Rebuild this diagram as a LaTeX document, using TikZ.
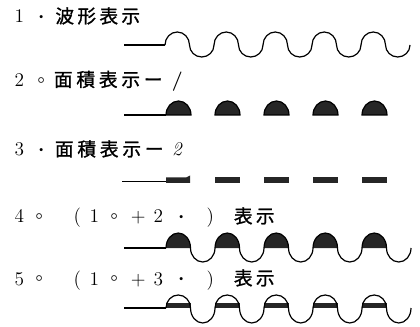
\documentclass[tikz,border=0pt]{standalone}
\usepackage{fontspec}
\newfontfamily\jp{Noto Sans CJK JP}[FakeBold=1.2]
\newlength\px \setlength\px{0.75pt}
% token placed with its centre at x (in px) from the left edge
\newcommand\tk[2]{\makebox[0pt][l]{\hspace*{#1\px}\makebox[0pt]{\fontsize{14.5}{15}\selectfont #2}}}
\newcommand\kj[2]{\tk{#1}{\jp\fontsize{14}{14}\selectfont #2}}
\newcommand\sdot{\raisebox{2.8pt}{\fontsize{8}{8}\selectfont\textbullet}}
\newcommand\hdot{\raisebox{2.4pt}{\fontsize{9.5}{9.5}\selectfont\boldmath$\circ$}}

\tikzset{every picture/.style={line width=0.9pt}}

\begin{document}
\begin{tikzpicture}[x=0.75pt,y=0.75pt,yscale=-1,xscale=1,
  lbl/.style={anchor=base west,inner sep=0pt},
  disk/.style={fill=black!85,draw=black},
  bar/.style={fill=black!85}]
\useasboundingbox (0,0) rectangle (420,327);

% Text Node
\node[lbl] (lab1) at (0,23) {\tk{18}{1}\tk{40}{\sdot}\kj{63.5}{波}\kj{85.5}{形}\kj{107.5}{表}\kj{129.5}{示}};
% Text Node
\node[lbl] (lab2) at (0,86.5) {\tk{18}{2}\tk{40}{\hdot}\kj{62}{面}\kj{84.5}{積}\kj{107}{表}\kj{129.5}{示}\kj{152}{ー}\tk{176}{\bfseries /}};
% Text Node
\node[lbl] (lab3) at (0,156) {\tk{18}{3}\tk{40}{\sdot}\kj{63}{面}\kj{85.5}{積}\kj{108}{表}\kj{130.5}{示}\kj{153}{ー}\tk{176}{\textit{2}}};
% Text Node
\node[lbl] (lab4) at (0,223) {\tk{18}{4}\tk{38}{\hdot}\tk{76}{(}\tk{93}{1}\tk{113}{\hdot}\tk{137}{+}\tk{157}{2}\tk{180}{\sdot}\tk{209}{)}\kj{242}{表}\kj{264}{示}};
% Text Node
\node[lbl] (lab5) at (0,285) {\tk{18}{5}\tk{38}{\hdot}\tk{76}{(}\tk{93}{1}\tk{113}{\hdot}\tk{137}{+}\tk{157}{3}\tk{180}{\sdot}\tk{209}{)}\kj{242}{表}\kj{264}{示}};

%Wave 1
\draw (124,45) -- (165,45);
\draw (165,45) foreach \i in {0,...,4} {arc[start angle=180,end angle=360,x radius=12.25,y radius=13] arc[start angle=180,end angle=0,x radius=12.25,y radius=12]};

%Area 1 (half disks)
\draw (124,115) -- (166,115);
\foreach \x in {166,215,264,313,362}
  \filldraw[disk] (\x,115) arc[start angle=180,end angle=360,x radius=12.5,y radius=14] -- cycle;

%Area 2 (bars)
\draw (122,181.5) -- (166,181.5);
\fill[bar] (166,177.5) -- (186,177.5) -- (190,175.5) -- (190,183) -- (166,183) -- cycle;
\foreach \x in {215,264,313,362}
  \fill[bar] (\x,177.5) rectangle ++(24.5,5.5);

%Wave + area 1
\draw (124,248) -- (166,248);
\foreach \x in {166,215,264,313,362}
  \fill[bar] (\x,248) arc[start angle=180,end angle=360,x radius=12.25,y radius=15] -- cycle;
\draw (166,248) foreach \i in {0,...,4} {arc[start angle=180,end angle=360,x radius=12.25,y radius=15] arc[start angle=180,end angle=0,x radius=12.25,y radius=14]};

%Wave + area 2
\draw (124,308) -- (166,308);
\foreach \x in {166,215,264,313,362}
  \fill[bar] (\x,303) rectangle ++(24.5,5);
\draw (166,308) foreach \i in {0,...,4} {arc[start angle=180,end angle=360,x radius=12.25,y radius=13] arc[start angle=180,end angle=0,x radius=12.25,y radius=15]};

\end{tikzpicture}
\end{document}
